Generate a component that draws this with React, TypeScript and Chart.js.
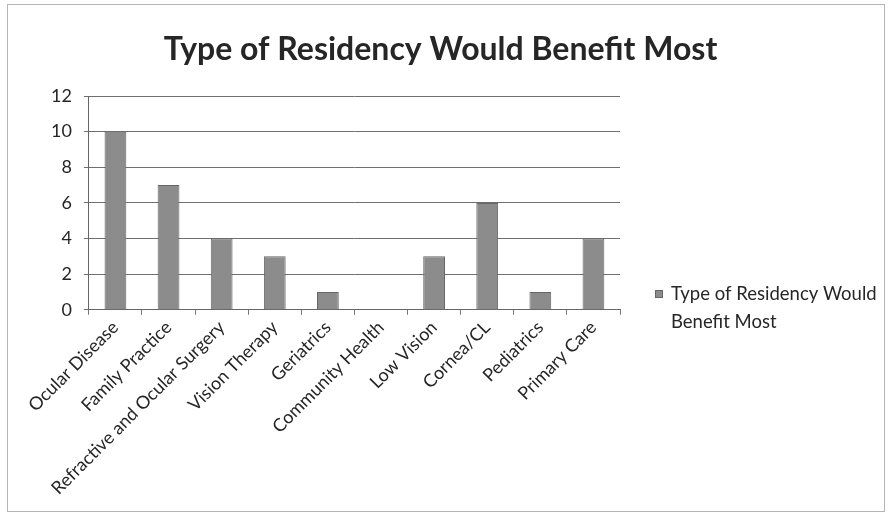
import React, { useEffect, useRef } from "react";
import { Chart, registerables } from "chart.js";

Chart.register(...registerables);

const chartTitle = "Type of Residency Would Benefit Most";
const seriesName = "Type of Residency Would Benefit Most";
const legendLines = ["Type of Residency Would", "Benefit Most"];

const categories = [
  "Ocular Disease",
  "Family Practice",
  "Refractive and Ocular Surgery",
  "Vision Therapy",
  "Geriatrics",
  "Community Health",
  "Low Vision",
  "Cornea/CL",
  "Pediatrics",
  "Primary Care",
];

const seriesValues = [10, 7, 4, 3, 1, 0, 3, 6, 1, 4];

const yMin = 0;
const yMax = 12;
const yStep = 2;

const FONT = "Lato, 'Open Sans', sans-serif";
const BAR_FILL = "#8c8c8c";
const BAR_EDGE = "#666666";
const TEXT = "#262626";

// Draws the heading and the wrapped legend entry beside the plot.
const decorations = {
  id: "decorations",
  afterDraw(chart: any) {
    const { ctx, width } = chart;
    ctx.save();
    ctx.fillStyle = TEXT;
    ctx.font = `bold 32px ${FONT}`;
    ctx.textAlign = "center";
    ctx.textBaseline = "middle";
    ctx.fillText(chartTitle, width / 2 - 4, 50);

    const area = chart.chartArea;
    const lx = area.right + 35;
    const ly = 294;
    ctx.fillStyle = BAR_FILL;
    ctx.strokeStyle = BAR_EDGE;
    ctx.lineWidth = 1;
    ctx.fillRect(lx, ly - 4, 8, 8);
    ctx.strokeRect(lx + 0.5, ly - 3.5, 7, 7);

    ctx.fillStyle = TEXT;
    ctx.font = `18.5px ${FONT}`;
    ctx.textAlign = "left";
    ctx.textBaseline = "middle";
    legendLines.forEach((line, i) => {
      ctx.fillText(line, lx + 16, ly + i * 28);
    });
    ctx.restore();
  },
};

export default function App() {
  const canvasRef = useRef<HTMLCanvasElement | null>(null);

  useEffect(() => {
    document.body.style.margin = "0";
    const canvas = canvasRef.current;
    if (!canvas) return;
    const chart = new Chart(canvas, {
      type: "bar",
      data: {
        labels: categories,
        datasets: [
          {
            label: seriesName,
            data: seriesValues,
            backgroundColor: BAR_FILL,
            borderColor: BAR_EDGE,
            borderWidth: 1,
            barPercentage: 0.41,
            categoryPercentage: 1,
          },
        ],
      },
      options: {
        responsive: false,
        animation: false,
        layout: { padding: { top: 96, right: 269, left: 39, bottom: 28 } },
        plugins: {
          legend: { display: false },
          title: { display: false },
          tooltip: { enabled: false },
        },
        scales: {
          x: {
            grid: {
              display: true,
              drawOnChartArea: false,
              drawTicks: true,
              tickLength: 5,
              color: "#777777",
              offset: true,
            },
            border: { display: true, color: "#666666", width: 1 },
            ticks: {
              color: TEXT,
              font: { family: FONT, size: 18 },
              minRotation: 45,
              maxRotation: 45,
              autoSkip: false,
              padding: 2,
            },
          },
          y: {
            min: yMin,
            max: yMax,
            grid: {
              color: "#6f6f6f",
              lineWidth: 1,
              tickLength: 5,
            },
            border: { display: true, color: "#666666", width: 1 },
            ticks: {
              stepSize: yStep,
              color: TEXT,
              font: { family: FONT, size: 18 },
              padding: 12,
            },
          },
        },
      },
      plugins: [decorations],
    });
    return () => chart.destroy();
  }, []);

  return (
    <div style={{ position: "relative", width: 889, height: 529, background: "#ffffff" }}>
      <div
        style={{
          position: "absolute",
          left: 7,
          top: 4,
          width: 878,
          height: 508,
          border: "1px solid #b5b5b5",
          boxSizing: "border-box",
        }}
      />
      <canvas ref={canvasRef} width={889} height={529} style={{ position: "absolute", left: 0, top: 0 }} />
    </div>
  );
}
